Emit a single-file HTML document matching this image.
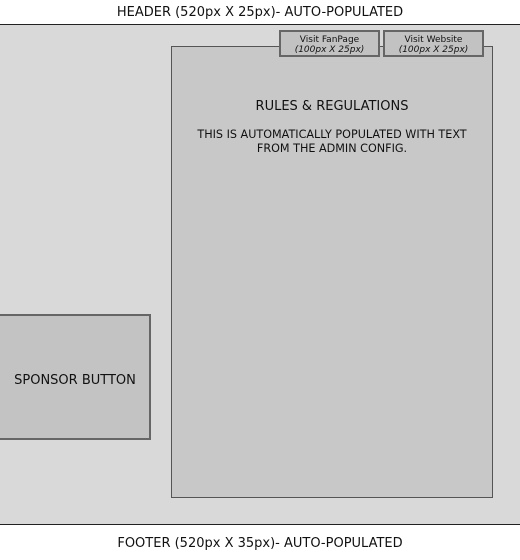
<!DOCTYPE html>
<html><head><style>
*{margin:0;padding:0;box-sizing:border-box}
body{width:520px;height:560px;background:#fff;position:relative;overflow:hidden;font-family:"DejaVu Sans","Liberation Sans",sans-serif;color:#111}
.a{position:absolute}
.t{text-align:center;white-space:nowrap}
</style></head><body>
<div class="a t" style="left:0;top:5px;width:520px;font-size:13px">HEADER (520px X 25px)- AUTO-POPULATED</div>
<div class="a" style="left:0;top:24px;width:520px;height:501px;background:#d9d9d9;border-top:1px solid #222;border-bottom:1px solid #222"></div>
<div class="a" style="left:171px;top:46px;width:322px;height:452px;background:#c8c8c8;border:1px solid #555"></div>
<div class="a" style="left:279px;top:30px;width:101px;height:27px;background:#c2c2c2;border:2px solid #666"></div>
<div class="a t" style="left:279px;top:35px;width:101px;font-size:9px;line-height:10px">Visit FanPage<br><i>(100px X 25px)</i></div>
<div class="a" style="left:383px;top:30px;width:101px;height:27px;background:#c2c2c2;border:2px solid #666"></div>
<div class="a t" style="left:383px;top:35px;width:101px;font-size:9px;line-height:10px">Visit Website<br><i>(100px X 25px)</i></div>
<div class="a t" style="left:171px;top:99px;width:322px;font-size:13px">RULES &amp; REGULATIONS</div>
<div class="a t" style="left:171px;top:128px;width:322px;font-size:11.2px;line-height:14px">THIS IS AUTOMATICALLY POPULATED WITH TEXT<br>FROM THE ADMIN CONFIG.</div>
<div class="a" style="left:-2px;top:314px;width:153px;height:126px;background:#c3c3c3;border:2px solid #666"></div>
<div class="a t" style="left:0;top:373px;width:150px;font-size:13px">SPONSOR BUTTON</div>
<div class="a t" style="left:0;top:536px;width:520px;font-size:13px">FOOTER (520px X 35px)- AUTO-POPULATED</div>
</body></html>
